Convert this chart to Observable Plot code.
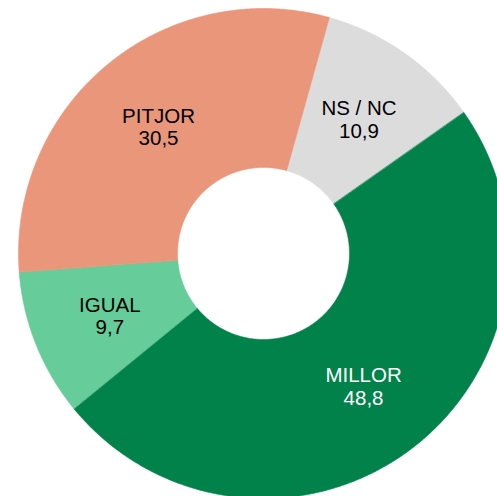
<!DOCTYPE html>
<html>
<head>
<meta charset="utf-8">
<script src="https://cdn.jsdelivr.net/npm/d3@7"></script>
<script src="https://cdn.jsdelivr.net/npm/@observablehq/plot@0.6"></script>
<style>
  html, body { margin: 0; padding: 0; background: #fff; }
  svg { display: block; }
</style>
</head>
<body>
<div id="chart"></div>
<script>
// Data (clockwise order starting from the top-right slice)
const labels = ["NS / NC", "MILLOR", "IGUAL", "PITJOR"];
const values = [10.9, 48.8, 9.7, 30.5];
const colors = ["#DCDCDC", "#00824A", "#66CC99", "#E9967A"];

// Geometry (pixels)
const W = 497, H = 496;
const cx = 263, cy = 253, R = 245, r0 = 86;
const startDeg = 15.6;

const rows = labels.map((label, i) => ({label, value: values[i]}));
const pie = d3.pie().value(d => d.value).sort(null)
  .startAngle(startDeg * Math.PI / 180)
  .endAngle(startDeg * Math.PI / 180 + 2 * Math.PI);
const arcs = pie(rows);

const inner = r0 / R; // radii in units of outer radius
const pts = [];
for (const a of arcs) {
  const n = Math.max(8, Math.ceil((a.endAngle - a.startAngle) * 120));
  for (let k = 0; k <= n; k++) {
    const t = a.startAngle + (a.endAngle - a.startAngle) * k / n;
    pts.push({label: a.data.label, x: Math.sin(t), y: Math.cos(t)});
  }
  for (let k = n; k >= 0; k--) {
    const t = a.startAngle + (a.endAngle - a.startAngle) * k / n;
    pts.push({label: a.data.label, x: inner * Math.sin(t), y: inner * Math.cos(t)});
  }
}
const rm = (1 + inner) / 2;
const labelPts = arcs.map(a => {
  const t = (a.startAngle + a.endAngle) / 2;
  return {
    label: a.data.label,
    text: a.data.label + "\n" + String(a.data.value).replace(".", ","),
    x: rm * Math.sin(t),
    y: rm * Math.cos(t)
  };
});

const chart = Plot.plot({
  width: W,
  height: H,
  margin: 0,
  style: {background: "#fff", fontFamily: "'Liberation Sans', Arial, sans-serif"},
  x: {domain: [-cx / R, (W - cx) / R], axis: null},
  y: {domain: [-(H - cy) / R, cy / R], axis: null},
  color: {domain: labels, range: colors},
  marks: [
    Plot.line(pts, {x: "x", y: "y", z: "label", fill: "label", stroke: "label",
      strokeWidth: 0.6, curve: "linear-closed"}),
    Plot.text(labelPts.filter(d => d.label !== "MILLOR"), {x: "x", y: "y", text: "text",
      fill: "#000", fontSize: 20.5, lineHeight: 1.09, dy: 1}),
    Plot.text(labelPts.filter(d => d.label === "MILLOR"), {x: "x", y: "y", text: "text",
      fill: "#fff", fontSize: 20.5, lineHeight: 1.09, dy: 1})
  ]
});
document.getElementById("chart").appendChild(chart);
</script>
</body>
</html>
